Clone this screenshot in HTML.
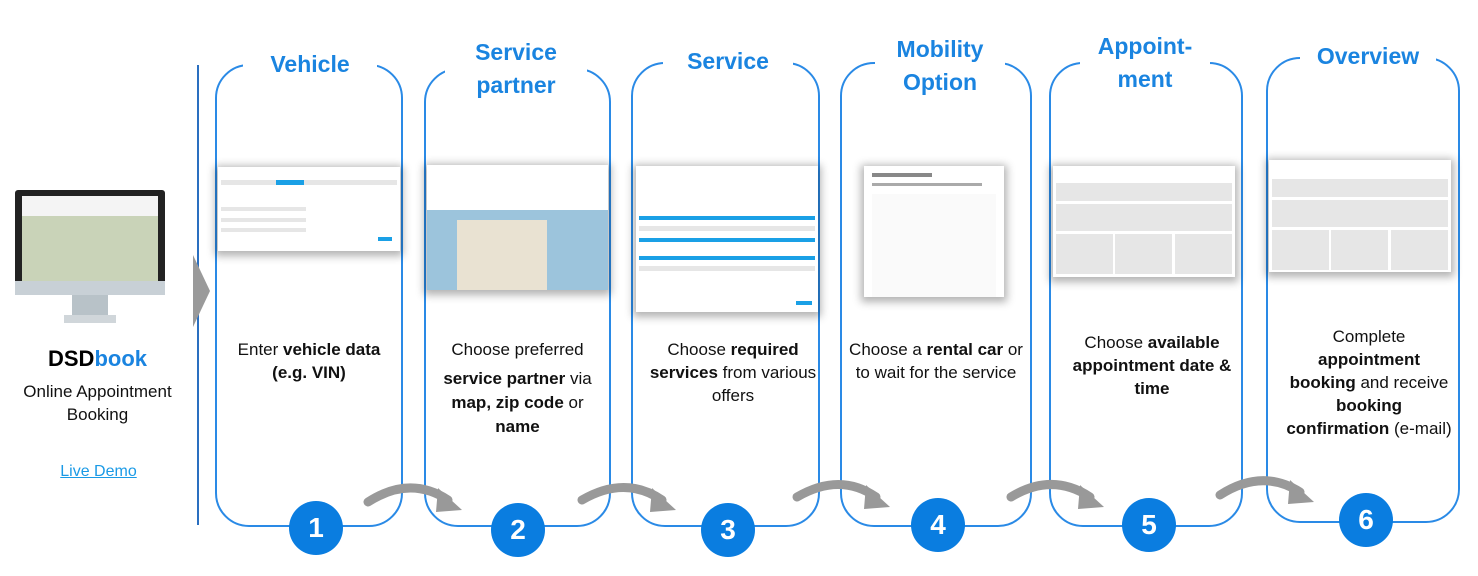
<!DOCTYPE html><html><head><style>
body{margin:0;width:1478px;height:576px;background:#fff;position:relative;font-family:"Liberation Sans",sans-serif;overflow:hidden}
.a{position:absolute}
.p{position:absolute;border:2px solid #2a8ae6;border-radius:34px;box-sizing:border-box}
.t{position:absolute;color:#1a84e0;font-weight:bold;font-size:23px;text-align:center;background:#fff;line-height:33px}
.c{position:absolute;width:54px;height:54px;border-radius:50%;background:#0a7de0;color:#fff;font-weight:bold;font-size:28px;text-align:center;line-height:54px}
.d{position:absolute;color:#111;font-size:17px;text-align:center;line-height:23px}
.s{position:absolute;background:#fff;box-shadow:0 2px 8px 3px rgba(0,0,0,.3);overflow:hidden}
.s i{position:absolute;display:block;background:#e6e6e6}
</style></head><body>
<div class="a" style="left:197px;top:65px;width:1.5px;height:460px;background:#2a6fc0"></div>
<div class="a" style="left:193px;top:255px;width:0;height:0;border-top:36px solid transparent;border-bottom:36px solid transparent;border-left:17px solid #9a9a9a"></div>
<div class="a" style="left:15px;top:190px;width:150px;height:105px;background:#222;border-radius:3px"></div>
<div class="a" style="left:22px;top:196px;width:136px;height:85px;background:#c9d3b8"></div>
<div class="a" style="left:22px;top:196px;width:136px;height:20px;background:#f4f4f4"></div>
<div class="a" style="left:15px;top:281px;width:150px;height:14px;background:#c8d0d6"></div>
<div class="a" style="left:72px;top:295px;width:36px;height:20px;background:#b8c2c8"></div>
<div class="a" style="left:64px;top:315px;width:52px;height:8px;background:#d0d6da"></div>
<div class="a" style="left:0;top:346px;width:195px;text-align:center;font-size:22px;font-weight:bold;color:#000">DSD<span style="color:#1a84e0">book</span></div>
<div class="d" style="left:0;top:380px;width:195px;font-size:17px">Online Appointment<br>Booking</div>
<div class="a" style="left:0;top:463px;width:197px;text-align:center;font-size:16px;color:#1a9ae6;text-decoration:underline">Live Demo</div>

<div class="p" style="left:215px;top:64px;width:188px;height:463px"></div>
<div class="p" style="left:424px;top:68px;width:187px;height:459px"></div>
<div class="p" style="left:631px;top:62px;width:189px;height:465px"></div>
<div class="p" style="left:840px;top:62px;width:192px;height:465px"></div>
<div class="p" style="left:1049px;top:62px;width:194px;height:465px"></div>
<div class="p" style="left:1266px;top:57px;width:194px;height:466px"></div>

<div class="t" style="left:243px;top:48px;width:134px">Vehicle</div>
<div class="t" style="left:445px;top:36px;width:142px">Service<br>partner</div>
<div class="t" style="left:663px;top:45px;width:130px">Service</div>
<div class="t" style="left:875px;top:33px;width:130px">Mobility<br>Option</div>
<div class="t" style="left:1080px;top:30px;width:130px">Appoint-<br>ment</div>
<div class="t" style="left:1300px;top:40px;width:136px">Overview</div>

<div class="s" style="left:218px;top:167px;width:182px;height:84px"><i style="left:3px;top:13px;width:176px;height:5px"></i><i style="left:58px;top:13px;width:28px;height:5px;background:#1aa0e6"></i><i style="left:3px;top:40px;width:85px;height:4px"></i><i style="left:3px;top:51px;width:85px;height:4px"></i><i style="left:3px;top:61px;width:85px;height:4px"></i><i style="left:160px;top:70px;width:14px;height:4px;background:#1aa0e6"></i></div>
<div class="s" style="left:427px;top:165px;width:181px;height:125px"><i style="left:0;top:45px;width:181px;height:80px;background:#9cc4dc"></i><i style="left:30px;top:55px;width:90px;height:70px;background:#e9e2d2"></i></div>
<div class="s" style="left:636px;top:166px;width:182px;height:146px"><i style="left:3px;top:50px;width:176px;height:4px;background:#1aa0e6"></i><i style="left:3px;top:72px;width:176px;height:4px;background:#1aa0e6"></i><i style="left:3px;top:90px;width:176px;height:4px;background:#1aa0e6"></i><i style="left:3px;top:60px;width:176px;height:5px"></i><i style="left:3px;top:100px;width:176px;height:5px"></i><i style="left:160px;top:135px;width:16px;height:4px;background:#1aa0e6"></i></div>
<div class="s" style="left:864px;top:166px;width:140px;height:131px"><i style="left:8px;top:7px;width:60px;height:4px;background:#888"></i><i style="left:8px;top:17px;width:110px;height:3px;background:#aaa"></i><i style="left:8px;top:28px;width:124px;height:103px;background:#fafafa"></i></div>
<div class="s" style="left:1053px;top:166px;width:182px;height:111px"><i style="left:3px;top:17px;width:176px;height:18px"></i><i style="left:3px;top:38px;width:176px;height:27px"></i><i style="left:3px;top:68px;width:57px;height:40px"></i><i style="left:62px;top:68px;width:57px;height:40px"></i><i style="left:122px;top:68px;width:57px;height:40px"></i></div>
<div class="s" style="left:1269px;top:160px;width:182px;height:112px"><i style="left:3px;top:19px;width:176px;height:18px"></i><i style="left:3px;top:40px;width:176px;height:27px"></i><i style="left:3px;top:70px;width:57px;height:40px"></i><i style="left:62px;top:70px;width:57px;height:40px"></i><i style="left:122px;top:70px;width:57px;height:40px"></i></div>

<div class="d" style="left:215px;top:338px;width:188px">Enter <b>vehicle data<br>(e.g. VIN)</b></div>
<div class="d" style="left:424px;top:338px;width:187px;line-height:24px">Choose preferred<br><div style="height:5px"></div><b>service partner</b> via<br><b>map, zip code</b> or<br><b>name</b></div>
<div class="d" style="left:631px;top:338px;width:204px">Choose <b>required<br>services</b> from various<br>offers</div>
<div class="d" style="left:840px;top:338px;width:192px">Choose a <b>rental car</b> or<br>to wait for the service</div>
<div class="d" style="left:1049px;top:331px;width:206px">Choose <b>available<br>appointment date &amp;<br>time</b></div>
<div class="d" style="left:1266px;top:325px;width:206px">Complete<br><b>appointment<br>booking</b> and receive<br><b>booking<br>confirmation</b> (e-mail)</div>

<svg class="a" style="left:0;top:0" width="1478" height="576">
<g fill="none" stroke="#999" stroke-width="9" stroke-linecap="round">
<path d="M368 502 Q410 475 448 500"/><path d="M582 500 Q625 475 662 500"/><path d="M797 497 Q840 472 876 497"/><path d="M1011 497 Q1052 472 1090 497"/><path d="M1220 495 Q1262 468 1300 492"/>
</g>
<g fill="#999"><polygon points="438,488 462,510 436,512"/><polygon points="652,488 676,510 650,512"/><polygon points="866,485 890,507 864,509"/><polygon points="1080,485 1104,507 1078,509"/><polygon points="1290,480 1314,502 1288,504"/></g>
</svg>
<div class="c" style="left:289px;top:501px">1</div>
<div class="c" style="left:491px;top:503px">2</div>
<div class="c" style="left:701px;top:503px">3</div>
<div class="c" style="left:911px;top:498px">4</div>
<div class="c" style="left:1122px;top:498px">5</div>
<div class="c" style="left:1339px;top:493px">6</div>
</body></html>
